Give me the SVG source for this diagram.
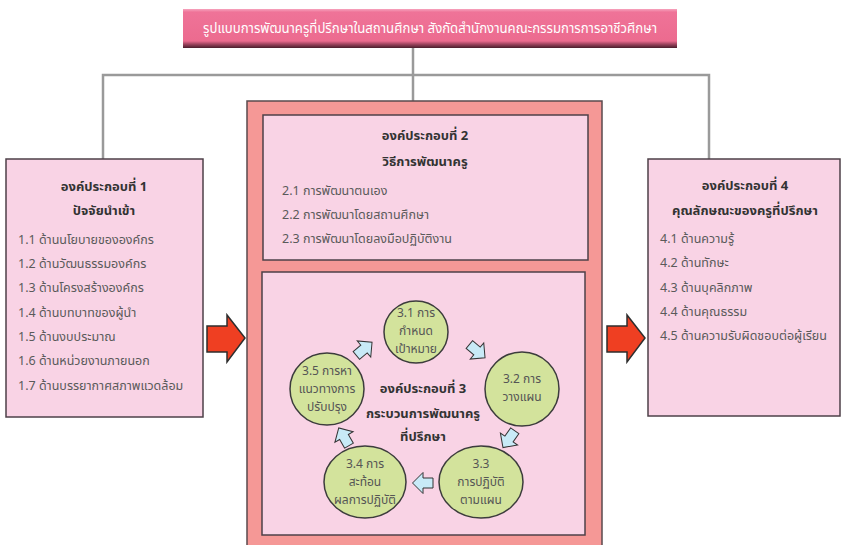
<svg xmlns="http://www.w3.org/2000/svg" width="842" height="545" viewBox="0 0 842 545">
<defs>
<linearGradient id="tg" x1="0" y1="0" x2="0" y2="1">
<stop offset="0" stop-color="#f6a3bd"/>
<stop offset="0.08" stop-color="#ef7398"/>
<stop offset="0.82" stop-color="#ec6b8f"/>
<stop offset="0.9" stop-color="#a04560"/>
<stop offset="1" stop-color="#4a1e2c"/>
</linearGradient>
<path id="ba" d="M-10,-5 L0,-5 L0,-10.5 L10.5,0 L0,10.5 L0,5 L-10,5 Z"/>
</defs>
<style>
text{font-family:"Tahoma","Noto Sans Thai","Loma","Garuda","DejaVu Sans",sans-serif;}
.title{font-size:13.5px;fill:#ffffff;text-anchor:middle;}
.hd{font-size:13px;font-weight:bold;fill:#333333;text-anchor:middle;}
.it{font-size:12.5px;fill:#5a5a5a;}
.ct{font-size:12px;fill:#555555;text-anchor:middle;}
.box{fill:#f9d3e5;stroke:#4d4048;stroke-width:1.5;}
.outer{fill:#f59896;stroke:#5a4a4e;stroke-width:1.5;}
.circ{fill:#d3e39c;stroke:#3c3c3c;stroke-width:1.5;}
.sa{fill:#c8eaf7;stroke:#333333;stroke-width:1;}
.ra{fill:#ef3f22;stroke:#2e2e2e;stroke-width:1.5;}
.con{fill:none;stroke:#9a9a9a;stroke-width:2.5;}
</style>
<g id="connectors">
<polyline class="con" points="413,48 413,101"/>
<polyline class="con" points="103,159 103,75 709,75 709,159"/>
</g>
<g id="title">
<rect x="183" y="9" width="494" height="39" fill="url(#tg)"/>
<text class="title" x="430" y="33" textLength="454" lengthAdjust="spacingAndGlyphs">รูปแบบการพัฒนาครูที่ปรึกษาในสถานศึกษา สังกัดสำนักงานคณะกรรมการการอาชีวศึกษา</text>
</g>
<g id="comp1">
<rect class="box" x="6" y="159" width="197" height="258"/>
<text class="hd" x="104" y="191">องค์ประกอบที่ 1</text>
<text class="hd" x="104" y="215">ปัจจัยนำเข้า</text>
<text class="it" x="18" y="244">1.1 ด้านนโยบายขององค์กร</text>
<text class="it" x="18" y="268">1.2 ด้านวัฒนธรรมองค์กร</text>
<text class="it" x="18" y="292">1.3 ด้านโครงสร้างองค์กร</text>
<text class="it" x="18" y="317">1.4 ด้านบทบาทของผู้นำ</text>
<text class="it" x="18" y="341">1.5 ด้านงบประมาณ</text>
<text class="it" x="18" y="365">1.6 ด้านหน่วยงานภายนอก</text>
<text class="it" x="18" y="390">1.7 ด้านบรรยากาศสภาพแวดล้อม</text>
</g>
<g id="center">
<rect class="outer" x="247" y="101" width="355" height="450"/>
</g>
<g id="comp2">
<rect class="box" x="263" y="115" width="325" height="145"/>
<text class="hd" x="425" y="140">องค์ประกอบที่ 2</text>
<text class="hd" x="425" y="166">วิธีการพัฒนาครู</text>
<text class="it" x="282" y="195">2.1 การพัฒนาตนเอง</text>
<text class="it" x="282" y="219">2.2 การพัฒนาโดยสถานศึกษา</text>
<text class="it" x="282" y="243">2.3 การพัฒนาโดยลงมือปฏิบัติงาน</text>
</g>
<g id="comp3">
<rect class="box" x="262" y="272" width="323" height="263"/>
<text class="hd" x="423" y="393">องค์ประกอบที่ 3</text>
<text class="hd" x="423" y="418">กระบวนการพัฒนาครู</text>
<text class="hd" x="423" y="441">ที่ปรึกษา</text>
</g>
<g id="s31">
<ellipse class="circ" cx="416" cy="332" rx="32" ry="31"/>
<text class="ct" x="416" y="317">3.1 การ</text>
<text class="ct" x="416" y="335">กำหนด</text>
<text class="ct" x="416" y="353">เป้าหมาย</text>
</g>
<g id="s32">
<ellipse class="circ" cx="522" cy="389" rx="37" ry="37"/>
<text class="ct" x="522" y="383">3.2 การ</text>
<text class="ct" x="522" y="401">วางแผน</text>
</g>
<g id="s33">
<ellipse class="circ" cx="481" cy="482" rx="42" ry="36"/>
<text class="ct" x="481" y="468">3.3</text>
<text class="ct" x="481" y="486">การปฏิบัติ</text>
<text class="ct" x="481" y="504">ตามแผน</text>
</g>
<g id="s34">
<ellipse class="circ" cx="365" cy="482" rx="41" ry="36"/>
<text class="ct" x="365" y="468">3.4 การ</text>
<text class="ct" x="365" y="486">สะท้อน</text>
<text class="ct" x="365" y="504">ผลการปฏิบัติ</text>
</g>
<g id="s35">
<ellipse class="circ" cx="327" cy="389" rx="37" ry="36"/>
<text class="ct" x="327" y="375">3.5 การหา</text>
<text class="ct" x="327" y="393">แนวทางการ</text>
<text class="ct" x="327" y="411">ปรับปรุง</text>
</g>
<g id="cycle-arrows">
<use href="#ba" class="sa" transform="translate(477,351) rotate(40)"/>
<use href="#ba" class="sa" transform="translate(509,439) rotate(125)"/>
<use href="#ba" class="sa" transform="translate(423,483) rotate(180)"/>
<use href="#ba" class="sa" transform="translate(344,437) rotate(-120)"/>
<use href="#ba" class="sa" transform="translate(364,349) rotate(-40)"/>
</g>
<g id="comp4">
<rect class="box" x="648" y="159" width="192" height="257"/>
<text class="hd" x="745" y="190">องค์ประกอบที่ 4</text>
<text class="hd" x="745" y="215">คุณลักษณะของครูที่ปรึกษา</text>
<text class="it" x="660" y="243">4.1 ด้านความรู้</text>
<text class="it" x="660" y="267">4.2 ด้านทักษะ</text>
<text class="it" x="660" y="292">4.3 ด้านบุคลิกภาพ</text>
<text class="it" x="660" y="316">4.4 ด้านคุณธรรม</text>
<text class="it" x="660" y="340">4.5 ด้านความรับผิดชอบต่อผู้เรียน</text>
</g>
<g id="flow-arrows">
<path class="ra" d="M207,326 L227,326 L227,315 L245,338 L227,362 L227,352 L207,352 Z"/>
<path class="ra" d="M607,326 L627,326 L627,315 L645,338 L627,362 L627,352 L607,352 Z"/>
</g>
</svg>
